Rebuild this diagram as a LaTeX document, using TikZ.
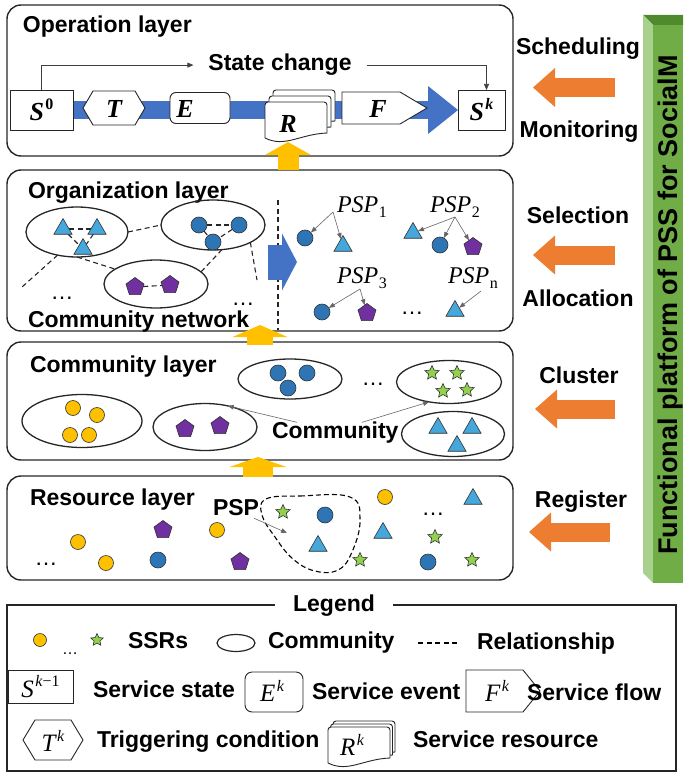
\RequirePackage{fix-cm}
\documentclass[tikz,border=0pt]{standalone}
\usepackage[no-math]{fontspec}
\setmainfont{Liberation Sans}
\newfontfamily\serfam{Liberation Serif}
\newcommand\supx[1]{\kern1.5pt\raisebox{0.42em}{\fontsize{16}{16}\selectfont #1}}
\newcommand\subx[1]{\kern0.5pt\raisebox{-0.22em}{\fontsize{16}{16}\selectfont #1}}
\usetikzlibrary{shapes.geometric,arrows.meta,calc,backgrounds}
\definecolor{cgold}{HTML}{FFC000}
\definecolor{corange}{HTML}{ED7D31}
\definecolor{cband}{HTML}{4472C4}
\definecolor{cblue}{HTML}{2E75B6}
\definecolor{ctri}{HTML}{45A7DB}
\definecolor{cpurple}{HTML}{7030A0}
\definecolor{cgreen}{HTML}{92D050}
\definecolor{barfront}{HTML}{70AD47}
\definecolor{barside}{HTML}{A9D18E}
\definecolor{bartop}{HTML}{4F8A2C}
\tikzset{
 layer/.style={draw=black!85,line width=1.4pt,rounded corners=14pt,minimum width=506pt},
 lbl/.style={anchor=base west},
 ctr/.style={anchor=base},
 opshape/.style={draw=black!85,line width=0.9pt,fill=white},
 opmath/.style={font=\fontsize{26}{30}\selectfont\serfam\bfseries\itshape},
 lgmath/.style={font=\fontsize{25}{29}\selectfont\serfam\mdseries\itshape},
 pspmath/.style={anchor=base west,font=\fontsize{24}{28}\selectfont\serfam\mdseries\itshape},
 thinarr/.style={draw=black!75,line width=0.7pt,-{Triangle[length=6pt,width=5pt]}},
 psparr/.style={draw=black!60,line width=0.6pt,-{Triangle[length=6pt,width=4.5pt]}},
 blockarr/.style n args={4}{draw=#4,line width=#1,-{Triangle[length=#2,width=#3,line width=0pt]}},
 comm/.style={draw=black!85,line width=1.3pt,ellipse},
 rel/.style={draw=black!85,line width=1.1pt,dash pattern=on 5pt off 3.5pt},
 ssr/.style={draw=black!80,line width=0.6pt},
 ycirc/.style={ssr,circle,fill=cgold,minimum size=15pt},
 bcirc/.style={ssr,circle,fill=cblue,minimum size=16pt},
 tri/.style={ssr,regular polygon,regular polygon sides=3,fill=ctri,minimum size=21pt},
 pent/.style={ssr,regular polygon,regular polygon sides=5,fill=cpurple,minimum size=19pt},
 sstar/.style={ssr,star,star points=5,star point ratio=2.1,fill=cgreen,minimum size=15pt},
 dotsn/.style={anchor=base,font=\fontsize{23}{27}\selectfont\mdseries},
 pics/docstack/.style 2 args={code={
  \foreach \k in {2,1,0}{
   \draw[opshape,shift={({\k*#1},{-\k*#2})}]
    (0,36) [rounded corners=3pt] -- (0,0) -- (62,0) [sharp corners] -- (62,31)
    .. controls (35,32) and (20,46) .. (0,36) -- cycle;
  }}}
}
\begin{document}
\begin{tikzpicture}[x=1pt,y=-1pt,
  font=\fontsize{23}{27}\selectfont\bfseries,
  every node/.style={inner sep=0pt,outer sep=0pt}]
\useasboundingbox (0,0) rectangle (683,773);

% ---------- layer boxes
\node[layer,minimum height=151pt] (op) at (260,80.5) {};
\node[layer,minimum height=161pt] (org) at (260,250.5) {};
\node[layer,minimum height=118pt] (com) at (260,401) {};
\node[layer,minimum height=104pt] (res) at (260,528) {};

% ---------- gold up arrows
\coordinate (g1a) at (288,170); \coordinate (g1b) at (288,142);
\coordinate (g2a) at (260,345); \coordinate (g2b) at (260,325);
\coordinate (g3a) at (258,477); \coordinate (g3b) at (258,457);
\draw[blockarr={21pt}{13pt}{46pt}{cgold}] (g1a) -- (g1b);
\draw[blockarr={26pt}{12pt}{55pt}{cgold}] (g2a) -- (g2b);
\draw[blockarr={30pt}{10pt}{57pt}{cgold}] (g3a) -- (g3b);

% ---------- titles
\node[lbl] (optitle) at (23,33) {Operation layer};
\node[lbl] (orgtitle) at (28,198) {Organization layer};
\node[lbl] (cnet) at (28,327) {Community network};
\node[lbl] (comtitle) at (30,372) {Community layer};
\node[lbl] (restitle) at (30,505) {Resource layer};

% ---------- operation layer
\node[opshape,opmath,minimum width=63pt,minimum height=40pt] (S0) at (41.5,110) {S\supx{\upshape 0}};
\node[opshape,opmath,minimum width=47pt,minimum height=40pt] (Sk) at (481.5,110) {S\supx{k}};
\begin{scope}[on background layer]
\draw[blockarr={18pt}{30pt}{48pt}{cband}] (S0.east) -- (Sk.west);
\end{scope}
\draw[opshape] (83,108) -- (93,91) -- (135,91) -- (145,108) -- (135,125) -- (93,125) -- cycle;
\node[opmath] (T) at (114,109) {T};
\node[opshape,rounded corners=6pt,minimum width=60pt,minimum height=31pt] (E) at (200,108) {};
\node[opmath] (Et) at (185,109) {E};
\pic at (265,102) {docstack={4}{6}};
\node[opmath] (R) at (288,124) {R};
\draw[opshape] (342,92) -- (400,92) -- (427,108) -- (400,124) -- (342,124) -- cycle;
\node[opmath] (F) at (378,109) {F};
\node[anchor=base,inner xsep=15pt] (sc) at (280,71) {State change};
\draw[thinarr] (S0.north) |- (sc.west);
\draw[thinarr] (sc.east) -| ($(Sk.north)+(5,0)$);

% ---------- organization layer: community network
\node[comm,minimum width=102pt,minimum height=50pt] (e1) at (77,232) {};
\node[comm,minimum width=104pt,minimum height=50pt] (e2) at (213,225) {};
\node[comm,minimum width=104pt,minimum height=48pt] (e3) at (156,284) {};
\coordinate (d1) at (22,287);
\coordinate (d2) at (257,280);
\draw[rel] (e1.east) -- (e2.west);
\draw[rel] (e1.230) -- (d1);
\draw[rel] (e1.south) -- (e3.160);
\draw[rel] (e2.-70) -- (e3.15);
\draw[rel] (e2.-25) -- (d2);
\node[tri] (t1) at (63,229) {};
\node[tri] (t2) at (97,229) {};
\node[tri] (t3) at (83,249) {};
\node[bcirc] (c1) at (199,225) {};
\node[bcirc] (c2) at (239,225) {};
\node[bcirc] (c3) at (213,242) {};
\node[pent] (p1) at (135,287) {};
\node[pent] (p2) at (170,285) {};
\begin{scope}[on background layer]
\draw[rel] (t1) -- (t2); \draw[rel] (t1) -- (t3); \draw[rel] (t2) -- (t3);
\draw[rel] (c1) -- (c2); \draw[rel] (c2) -- (c3); \draw[rel] (c1) -- (c3);
\draw[rel] (p1) -- (p2);
\end{scope}
\node[dotsn] (od1) at (62,299) {…};
\node[dotsn] (od2) at (243,305) {…};
\coordinate (vd1) at (278,200); \coordinate (vd2) at (278,330);
\draw[rel] (vd1) -- (vd2);
\coordinate (ba1) at (268,262); \coordinate (ba2) at (297,262);
\draw[blockarr={35pt}{15pt}{57pt}{cband}] (ba1) -- (ba2);

% ---------- organization layer: PSPs
\node[pspmath] (psp1) at (337,212) {PSP\subx{\upshape 1}};
\node[pspmath] (psp2) at (430,212) {PSP\subx{\upshape 2}};
\node[pspmath] (psp3) at (337,283) {PSP\subx{\upshape 3}};
\node[pspmath] (pspn) at (448,283) {PSP\subx{\upshape n}};
\node[bcirc] (r1c) at (305,238) {};
\node[tri] (r1t) at (343,246) {};
\node[tri] (r2t) at (413,233) {};
\node[bcirc] (r2c) at (440,245) {};
\node[pent] (r2p) at (473,247) {};
\node[bcirc] (r3c) at (322,312) {};
\node[pent] (r3p) at (367,313) {};
\node[tri] (rnt) at (455,311) {};
\node[dotsn] (pd) at (412,314) {…};
\coordinate (f1) at (333,212);
\coordinate (f2) at (455,217);
\coordinate (f3) at (360,289);
\coordinate (fn) at (481,291);
\draw[psparr] (f1) -- (r1c);
\draw[psparr] (f1) -- (r1t);
\draw[psparr] (f2) -- (r2t);
\draw[psparr] (f2) -- (r2c);
\draw[psparr] (f2) -- (r2p);
\draw[psparr] (f3) -- (r3c);
\draw[psparr] (f3) -- (r3p);
\draw[psparr] (fn) -- (rnt);

% ---------- community layer
\node[comm,minimum width=104pt,minimum height=40pt] (ceb) at (290,379) {};
\node[comm,minimum width=120pt,minimum height=53pt] (cey) at (82,421) {};
\node[comm,minimum width=104pt,minimum height=47pt] (cep) at (205,427) {};
\node[comm,minimum width=105pt,minimum height=43pt] (ces) at (449,382) {};
\node[comm,minimum width=103pt,minimum height=45pt] (cet) at (453,434) {};
\node[bcirc] (cb1) at (278,373) {};
\node[bcirc] (cb2) at (307,373) {};
\node[bcirc] (cb3) at (288,388) {};
\node[ycirc] (cy1) at (73,408) {};
\node[ycirc] (cy2) at (97,415) {};
\node[ycirc] (cy3) at (70,435) {};
\node[ycirc] (cy4) at (89,435) {};
\node[pent] (cp1) at (185,429) {};
\node[pent] (cp2) at (220,426) {};
\node[sstar] (cs1) at (432,373) {};
\node[sstar] (cs2) at (457,373) {};
\node[sstar] (cs3) at (443,391) {};
\node[sstar] (cs4) at (467,390) {};
\node[tri] (ct1) at (438,428) {};
\node[tri] (ct2) at (472,428) {};
\node[tri] (ct3) at (457,446) {};
\node[dotsn] (cd) at (373,385) {…};
\node[lbl] (comtxt) at (272,438) {Community};
\draw[psparr] ($(comtxt.north west)+(25,1)$) -- (cep.43);
\draw[psparr] ($(comtxt.north west)+(90,1)$) -- (ces.225);

% ---------- resource layer
\draw[line width=1.1pt,dash pattern=on 5pt off 3pt] plot[smooth cycle,tension=0.7] coordinates
 {(266,499) (300,496) (350,497) (360,520) (352,552) (338,570) (315,571) (293,559) (275,537) (262,515)};
\node[lbl] (rpsp) at (213,515) {PSP};
\coordinate (rpspt) at (287,533);
\draw[psparr] ($(rpsp.south east)+(-5,3)$) -- (rpspt);
\node[sstar] (rs1) at (283,512) {};
\node[bcirc] (rb1) at (325,515) {};
\node[tri] (rt1) at (318,546) {};
\node[sstar] (rs2) at (360,560) {};
\node[ycirc] (ry1) at (385,497) {};
\node[tri] (rt2) at (383,533) {};
\node[dotsn] (rd1) at (433,515) {…};
\node[sstar] (rs3) at (435,537) {};
\node[bcirc] (rb2) at (428,562) {};
\node[tri] (rt3) at (473,499) {};
\node[sstar] (rs4) at (472,560) {};
\node[pent] (rp1) at (163,530) {};
\node[ycirc] (ry2) at (217,530) {};
\node[ycirc] (ry3) at (78,542) {};
\node[ycirc] (ry4) at (106,563) {};
\node[bcirc] (rb3) at (158,560) {};
\node[pent] (rp2) at (240,562) {};
\node[dotsn] (rd2) at (46,565) {…};

% ---------- right side: functions and platform bar
\fill[bartop] (643,15) -- (683,15) -- (683,25) -- (653,25) -- cycle;
\fill[barside] (643,15) -- (653,25) -- (653,583) -- (643,573) -- cycle;
\fill[barfront] (653,25) rectangle (683,583);
\node[rotate=90,anchor=base,font=\fontsize{27}{31}\selectfont\bfseries] (bartxt) at (677.5,305) {Functional platform of PSS for SocialM};
\node[ctr] (tsched) at (578,55) {Scheduling};
\node[ctr] (tmon) at (579,137) {Monitoring};
\node[ctr] (tsel) at (578,223) {Selection};
\node[ctr] (talloc) at (578,306) {Allocation};
\node[ctr] (tclus) at (579,383) {Cluster};
\node[ctr] (treg) at (581,507) {Register};
\coordinate (o1a) at (615,87.5); \coordinate (o1b) at (533,87.5);
\coordinate (o2a) at (615,255); \coordinate (o2b) at (533,255);
\coordinate (o3a) at (615,409); \coordinate (o3b) at (535,409);
\coordinate (o4a) at (610,532); \coordinate (o4b) at (529,532);
\draw[blockarr={19pt}{22pt}{39pt}{corange}] (o1a) -- (o1b);
\draw[blockarr={19pt}{22pt}{39pt}{corange}] (o2a) -- (o2b);
\draw[blockarr={19pt}{22pt}{39pt}{corange}] (o3a) -- (o3b);
\draw[blockarr={19pt}{22pt}{39pt}{corange}] (o4a) -- (o4b);

% ---------- legend
\node[draw=black!85,line width=1.1pt,minimum width=669pt,minimum height=166pt] (legbox) at (341.5,688) {};
\node[anchor=base,fill=white,inner xsep=18pt,inner ysep=3pt] (legt) at (334,611) {Legend};
\node[ycirc,minimum size=13pt] (lgy) at (40,640) {};
\node[anchor=base,font=\fontsize{16}{18}\selectfont\mdseries] (lgd) at (70,654) {…};
\node[sstar,minimum size=13pt] (lgs) at (97,640) {};
\node[lbl] (lgssr) at (128,648) {SSRs};
\node[comm,line width=1.2pt,minimum width=38pt,minimum height=17pt] (lge) at (236,643) {};
\node[lbl] (lgcom) at (268,648) {Community};
\coordinate (lr1) at (418,643); \coordinate (lr2) at (458,643);
\draw[line width=1.1pt,dash pattern=on 5pt off 3.5pt] (lr1) -- (lr2);
\node[lbl] (lgrel) at (477,649) {Relationship};
\node[opshape,lgmath,minimum width=65pt,minimum height=33pt] (lgS) at (40.5,686.5) {S\supx{k\upshape −1}};
\node[lbl] (lgst) at (93,697) {Service state};
\node[opshape,rounded corners=7pt,minimum width=58pt,minimum height=40pt] (lgE) at (274,692) {};
\node[lgmath] (lgEt) at (272,691) {E\supx{k}};
\node[lbl] (lgev) at (312,699) {Service event};
\draw[opshape] (466,670) -- (523,670) -- (540,691) -- (523,712) -- (466,712) -- cycle;
\node[lgmath] (lgF) at (497,691) {F\supx{k}};
\node[lbl] (lgfl) at (527,700) {Service flow};
\draw[opshape] (23,740) -- (35,720) -- (71,720) -- (83,740) -- (71,760) -- (35,760) -- cycle;
\node[lgmath] (lgT) at (53,741) {T\supx{k}};
\node[lbl] (lgtr) at (97,747) {Triggering condition};
\pic at (328,727) {docstack={2.5}{3}};
\node[lgmath] (lgR) at (352,745) {R\supx{k}};
\node[lbl] (lgres) at (413,747) {Service resource};
\end{tikzpicture}
\end{document}
